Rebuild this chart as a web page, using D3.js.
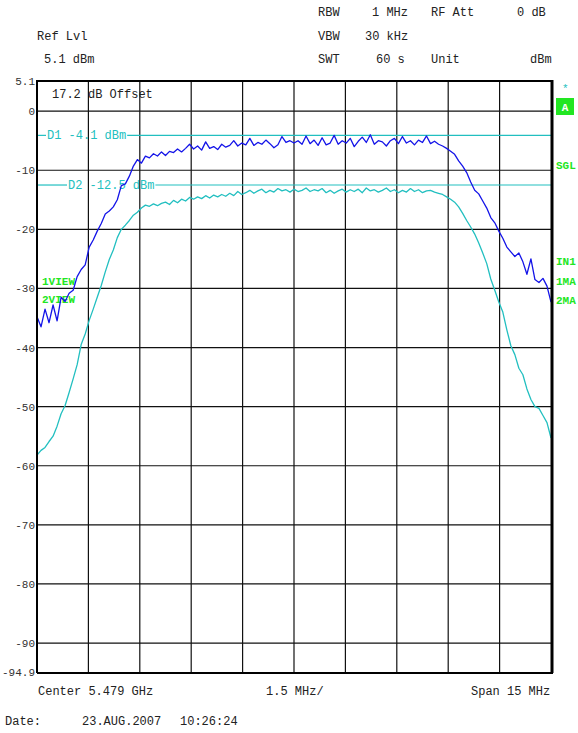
<!DOCTYPE html>
<html>
<head>
<meta charset="utf-8">
<script src="https://cdn.jsdelivr.net/npm/d3@7/dist/d3.min.js"></script>
<style>
  html, body { margin: 0; padding: 0; background: #fff; }
  svg { display: block; }
  text { font-family: "Liberation Mono", "DejaVu Sans Mono", monospace; }
</style>
</head>
<body>
<svg id="chart" width="578" height="733"></svg>
<script>
// Sweep settings
const centerGHz = 5.479;
const spanGHz = 0.015;
const refLevel = 5.1;        // dBm, top of screen
const bottomLevel = -94.9;   // dBm, bottom of screen
const yTickValues = [5.1, 0, -10, -20, -30, -40, -50, -60, -70, -80, -90, -94.9];
const yTickLabels = ["5.1", "0", "-10", "-20", "-30", "-40", "-50", "-60", "-70", "-80", "-90", "-94.9"];
const displayLines = [
  { name: "D1", level: -4.1, label: "D1 -4.1 dBm" },
  { name: "D2", level: -12.5, label: "D2 -12.5 dBm" }
];

// Trace 1 (view) level per sweep point, dBm
const trace1 = [
  -34.8, -36.5, -33.5, -35.8, -32.8, -35.5, -31.5, -32.2, -30.8, -30.3,
  -28.0, -26.8, -26.0, -23.0, -21.8, -20.3, -19.0, -17.4, -16.9, -16.2,
  -15.0, -12.6, -12.3, -11.0, -9.3, -8.2, -8.8, -7.6, -7.9, -7.2,
  -7.6, -6.9, -7.5, -6.8, -7.0, -6.4, -6.9, -6.3,
  -5.6, -6.4, -5.9, -6.6, -5.2, -6.3, -6.0, -6.5, -5.6, -6.1,
  -5.8, -5.0, -5.9, -5.4, -5.7, -4.6, -5.8, -5.3, -5.6, -4.9,
  -5.5, -6.2, -5.7, -4.3, -5.3, -5.0, -5.4, -5.0, -5.6, -4.2,
  -5.5, -4.9, -5.8, -4.5, -5.7, -5.4, -4.1, -5.6, -5.0, -5.4,
  -4.6, -6.0, -5.1, -4.4, -5.3, -4.0, -5.6, -5.0, -5.2, -5.9,
  -5.0, -4.6, -5.5, -4.3, -5.4, -5.0, -5.7, -4.9, -5.3, -4.2,
  -5.5, -5.1, -5.6,
  -5.9, -6.3, -6.8, -7.3, -8.4, -9.3, -10.4, -12.0, -13.4, -14.0,
  -15.2, -16.4, -18.0, -18.9, -20.3, -21.5, -23.0, -23.8, -24.6, -24.0,
  -25.5, -27.6, -25.0, -28.5, -29.0, -28.3, -29.6, -32.3
];

// Trace 2 (view) level per sweep point, dBm
const trace2 = [
  -58.2, -57.4, -56.9, -55.9, -55.0, -53.3, -51.2, -49.8, -47.6, -45.3,
  -42.9, -39.5, -37.7, -35.4, -33.5, -31.5, -29.5, -27.2, -25.1, -23.5,
  -21.4, -20.0, -19.3, -18.5, -17.6, -17.1, -16.4, -15.9, -16.1, -15.7,
  -16.0, -15.6, -15.4, -15.8, -15.1, -15.5, -14.9, -15.2, -14.6, -14.9,
  -14.5, -14.8, -14.3, -14.7, -14.2, -14.5, -14.1, -14.4, -13.9, -14.3,
  -13.6, -14.1, -13.8, -13.4, -13.9, -13.5, -13.2, -13.8, -13.4, -13.7,
  -13.1, -13.5, -13.3, -13.7, -13.2, -13.6, -13.4, -13.0, -13.6, -13.3,
  -13.5, -13.1, -13.8, -13.4, -13.9, -13.5, -13.2, -13.7, -13.3, -13.6,
  -13.2, -13.8, -13.0, -13.5, -13.3, -13.7, -13.4, -13.0, -13.6, -13.3,
  -13.8, -13.4, -13.7, -13.1, -13.6, -13.3, -13.8, -13.5, -13.4, -13.7,
  -13.9, -14.1, -14.5, -14.9, -15.4, -16.2, -17.3, -18.5, -19.6, -20.8,
  -22.3, -24.0, -25.8, -28.4, -30.3, -32.3, -34.0, -37.0, -39.7, -41.2,
  -43.5, -44.6, -47.0, -48.8, -50.0, -50.3, -51.5, -52.7, -55.3
];

const startGHz = centerGHz - spanGHz / 2;
const stopGHz = centerGHz + spanGHz / 2;
const sweepStep = spanGHz / (trace1.length - 1);
const freqAt = i => startGHz + i * sweepStep;

const svg = d3.select("#chart");
const plot = { left: 37, right: 551, top: 81, bottom: 672 };

const x = d3.scaleLinear().domain([startGHz, stopGHz]).range([plot.left, plot.right]);
const y = d3.scaleLinear().domain([bottomLevel, refLevel]).range([plot.bottom, plot.top]);

const ink = "#222";
const cyan = "#22bfc0";
const blue = "#1414e8";
const green = "#22e622";

// Header settings
const header = [
  { t: "RBW", x: 318, y: 16 }, { t: "1 MHz", x: 372, y: 16 }, { t: "RF Att", x: 431, y: 16 }, { t: "0 dB", x: 517, y: 16 },
  { t: "Ref Lvl", x: 37, y: 40 }, { t: "VBW", x: 318, y: 40 }, { t: "30 kHz", x: 365, y: 40 },
  { t: "5.1 dBm", x: 44, y: 63 }, { t: "SWT", x: 318, y: 63 }, { t: "60 s", x: 376, y: 63 }, { t: "Unit", x: 431, y: 63 }, { t: "dBm", x: 530, y: 63 }
];
svg.append("g").selectAll("text").data(header).join("text")
  .attr("x", d => d.x).attr("y", d => d.y)
  .attr("font-size", 12).attr("fill", ink).text(d => d.t);

// Graticule
const divisions = d3.range(0, 11).map(k => startGHz + k * spanGHz / 10);
const grid = svg.append("g");
grid.selectAll("line.v").data(divisions.slice(1, -1)).join("line")
  .attr("x1", d => x(d)).attr("x2", d => x(d))
  .attr("y1", plot.top).attr("y2", plot.bottom)
  .attr("stroke", "#111").attr("stroke-width", 1.2);
grid.selectAll("line.h").data(yTickValues.slice(1, -1)).join("line")
  .attr("x1", plot.left).attr("x2", plot.right)
  .attr("y1", d => y(d)).attr("y2", d => y(d))
  .attr("stroke", "#111").attr("stroke-width", 1.2);

// Level axis
const yAxis = d3.axisLeft(y)
  .tickValues(yTickValues)
  .tickFormat((d, i) => yTickLabels[i])
  .tickSize(0).tickPadding(2);
const ya = svg.append("g").attr("transform", `translate(${plot.left},0)`).call(yAxis);
ya.select(".domain").remove();
ya.selectAll("text").attr("font-size", 11).attr("fill", "#333")
  .attr("font-family", "Liberation Mono, DejaVu Sans Mono, monospace");

// Offset note
svg.append("text").attr("x", 52).attr("y", 98).attr("font-size", 12).attr("fill", ink)
  .text("17.2 dB Offset");

// Display lines with labels
const dlPos = { D1: 47, D2: 68 };
displayLines.forEach(dl => {
  const yy = y(dl.level);
  const tx = dlPos[dl.name];
  const tw = dl.label.length * 7.2;
  svg.append("line").attr("x1", plot.left).attr("x2", tx - 1).attr("y1", yy).attr("y2", yy)
    .attr("stroke", cyan).attr("stroke-width", 1.2);
  svg.append("line").attr("x1", tx + tw + 1).attr("x2", plot.right).attr("y1", yy).attr("y2", yy)
    .attr("stroke", cyan).attr("stroke-width", 1.2);
  svg.append("text").attr("x", tx).attr("y", yy + 4).attr("font-size", 12).attr("fill", cyan)
    .text(dl.label);
});

// Trace labels
svg.append("text").attr("x", 42).attr("y", 285).attr("font-size", 11).attr("font-weight", "bold")
  .attr("fill", green).text("1VIEW");
svg.append("text").attr("x", 42).attr("y", 303).attr("font-size", 11).attr("font-weight", "bold")
  .attr("fill", green).text("2VIEW");

// Traces
const line = d3.line().x((d, i) => x(freqAt(i))).y(d => y(d));
svg.append("path").datum(trace2).attr("d", line)
  .attr("fill", "none").attr("stroke", cyan).attr("stroke-width", 1.3).attr("stroke-linejoin", "round");
svg.append("path").datum(trace1).attr("d", line)
  .attr("fill", "none").attr("stroke", blue).attr("stroke-width", 1.3).attr("stroke-linejoin", "round");

// Screen frame
svg.append("line").attr("x1", plot.left).attr("x2", plot.left).attr("y1", plot.top - 1).attr("y2", plot.bottom + 1)
  .attr("stroke", "#000").attr("stroke-width", 2);
svg.append("line").attr("x1", plot.right + 1).attr("x2", plot.right + 1).attr("y1", plot.top - 1).attr("y2", plot.bottom + 1)
  .attr("stroke", "#000").attr("stroke-width", 3);
svg.append("line").attr("x1", plot.left).attr("x2", plot.right + 2).attr("y1", plot.top).attr("y2", plot.top)
  .attr("stroke", "#000").attr("stroke-width", 2);
svg.append("line").attr("x1", plot.left).attr("x2", plot.right + 2).attr("y1", plot.bottom + 1).attr("y2", plot.bottom + 1)
  .attr("stroke", "#000").attr("stroke-width", 2);

// Side annotations
svg.append("text").attr("x", 562).attr("y", 92).attr("font-size", 11).attr("fill", cyan).text("*");
svg.append("rect").attr("x", 556).attr("y", 98).attr("width", 18).attr("height", 17).attr("fill", green);
svg.append("text").attr("x", 565).attr("y", 111).attr("text-anchor", "middle").attr("font-size", 11)
  .attr("font-weight", "bold").attr("fill", "#fff").text("A");
const side = [{ t: "SGL", y: 169 }, { t: "IN1", y: 265 }, { t: "1MA", y: 285 }, { t: "2MA", y: 304 }];
svg.append("g").selectAll("text").data(side).join("text")
  .attr("x", 556).attr("y", d => d.y).attr("font-size", 11).attr("font-weight", "bold")
  .attr("fill", green).text(d => d.t);

// Footer
const footer = [
  { t: "Center 5.479 GHz", x: 38, y: 695 },
  { t: "1.5 MHz/", x: 266, y: 695 },
  { t: "Span 15 MHz", x: 471, y: 695 },
  { t: "Date:", x: 5, y: 725 },
  { t: "23.AUG.2007", x: 82, y: 725 },
  { t: "10:26:24", x: 180, y: 725 }
];
svg.append("g").selectAll("text").data(footer).join("text")
  .attr("x", d => d.x).attr("y", d => d.y).attr("font-size", 12).attr("fill", ink).text(d => d.t);
</script>
</body>
</html>
